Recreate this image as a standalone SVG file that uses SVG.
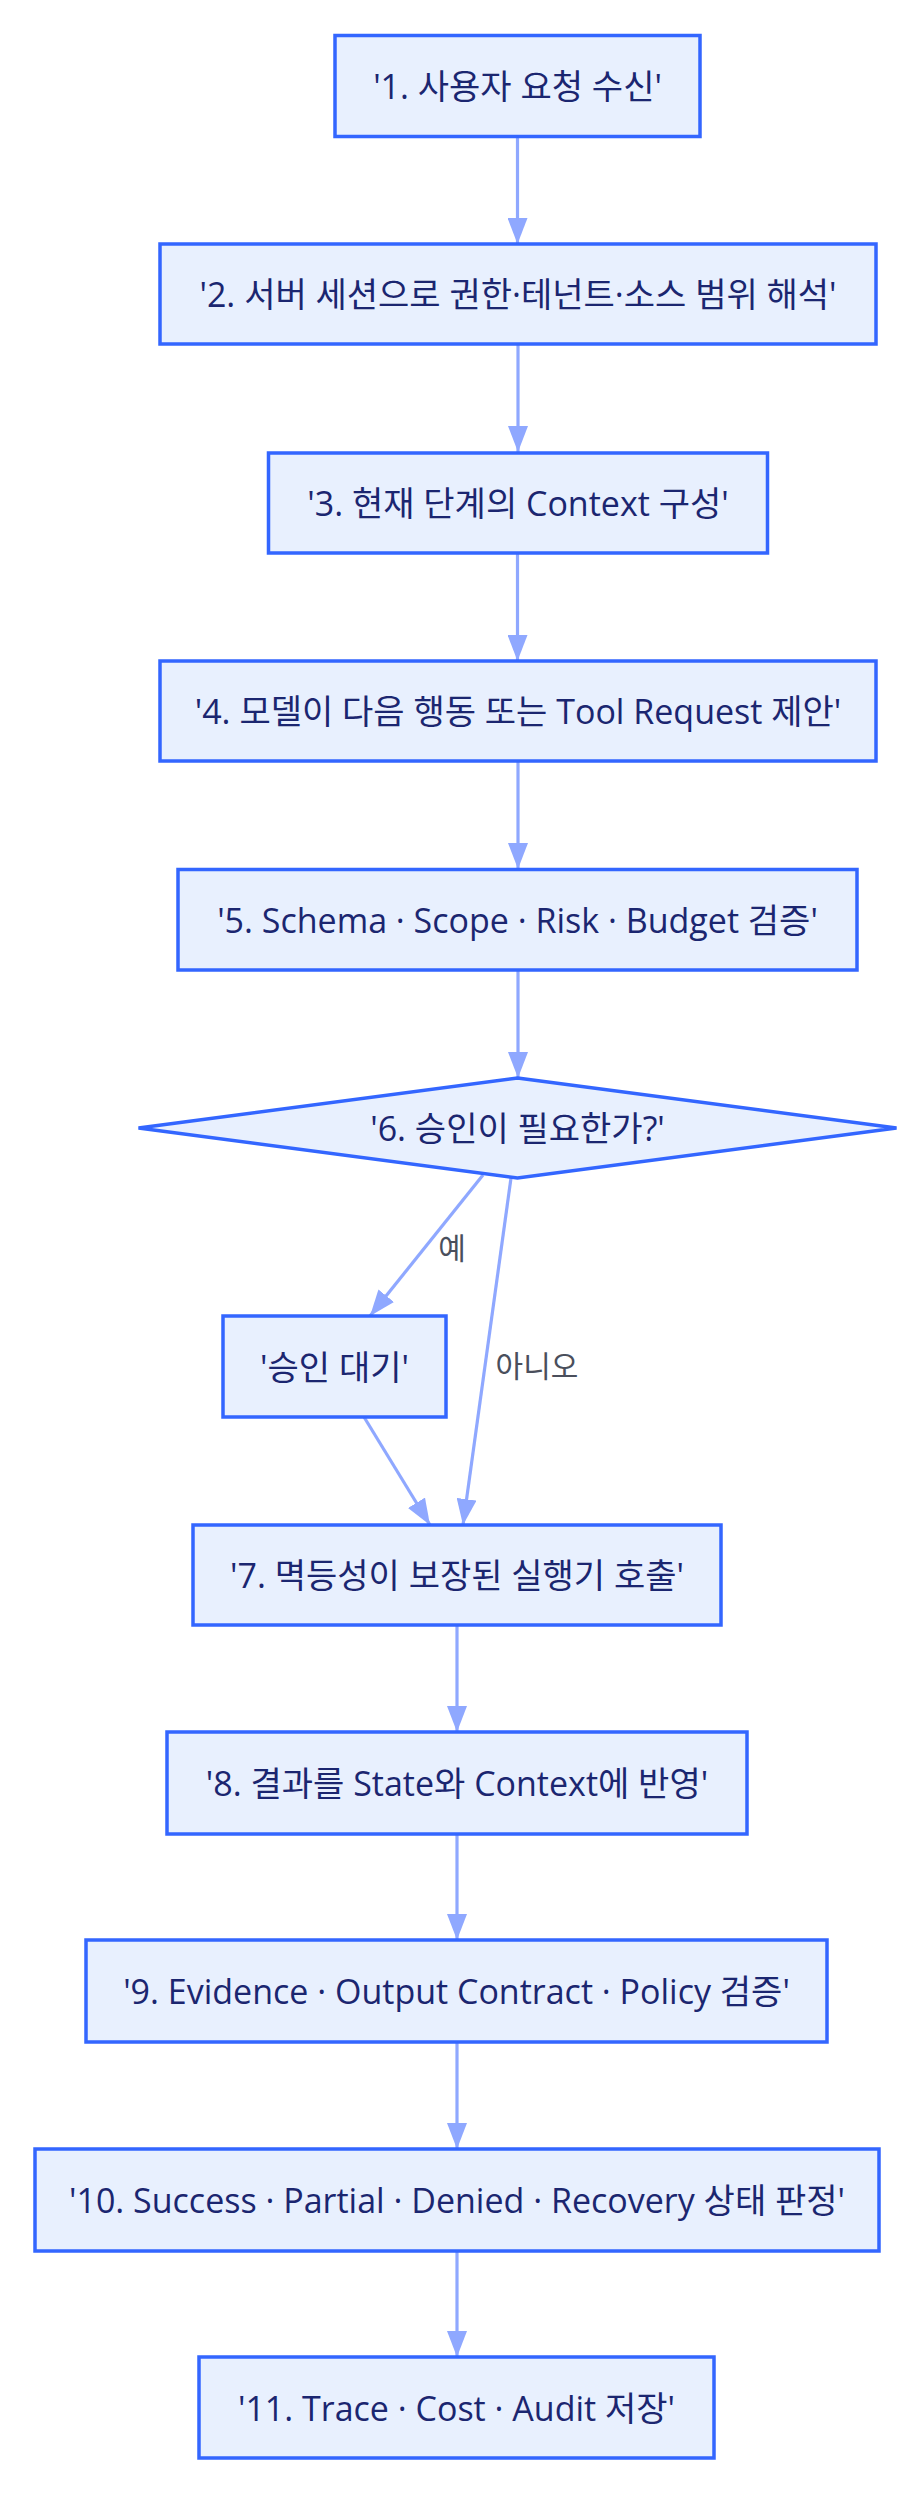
<svg xmlns="http://www.w3.org/2000/svg" width="922" height="2494" viewBox="0 0 922 2494">
<style>
.node rect, .node polygon { fill: #E8F0FE; stroke: #3366FF; stroke-width: 3.5; }
.node text { font-family: "Open Sans", "Noto Sans CJK KR", sans-serif; font-size: 34px; fill: #1B2670; text-anchor: middle; dominant-baseline: central; }
.edges line { stroke: #8FA8FF; stroke-width: 3.2; fill: none; marker-end: url(#arrow); }
.elabel { font-family: "Noto Sans CJK KR", sans-serif; font-size: 30px; fill: #4A4F5C; text-anchor: middle; dominant-baseline: central; }
</style>
<defs>
<marker id="arrow" viewBox="0 0 26 20" refX="26" refY="10" markerWidth="26" markerHeight="20" markerUnits="userSpaceOnUse" orient="auto">
<path d="M0,0 L26,10 L0,20 z" fill="#8FA8FF"/>
</marker>
</defs>
<rect width="922" height="2494" fill="#FFFFFF"/>
<g class="edges" id="connectors">
<line x1="517.5" y1="137" x2="517.5" y2="244"/>
<line x1="518" y1="344" x2="518" y2="452"/>
<line x1="517.5" y1="553" x2="517.5" y2="661"/>
<line x1="518" y1="761" x2="518" y2="869"/>
<line x1="518" y1="970" x2="518" y2="1078"/>
<line x1="483" y1="1175" x2="370" y2="1316"/>
<line x1="511" y1="1178" x2="463" y2="1525"/>
<line x1="364" y1="1417" x2="430" y2="1525"/>
<line x1="457" y1="1625" x2="457" y2="1732"/>
<line x1="457" y1="1834" x2="457" y2="1940"/>
<line x1="457" y1="2042" x2="457" y2="2149"/>
<line x1="457" y1="2251" x2="457" y2="2357"/>
<text class="elabel" x="452" y="1246">예</text>
<text class="elabel" x="537" y="1364">아니오</text>
</g>
<g class="node" id="n1"><rect x="335" y="35.5" width="365" height="101"/><text x="517.5" y="86">'1. 사용자 요청 수신'</text></g>
<g class="node" id="n2"><rect x="160" y="244" width="716" height="100"/><text x="518" y="294">'2. 서버 세션으로 권한·테넌트·소스 범위 해석'</text></g>
<g class="node" id="n3"><rect x="268.5" y="453" width="499" height="100"/><text x="518" y="503">'3. 현재 단계의 Context 구성'</text></g>
<g class="node" id="n4"><rect x="160" y="661" width="716" height="100"/><text x="518" y="711">'4. 모델이 다음 행동 또는 Tool Request 제안'</text></g>
<g class="node" id="n5"><rect x="178" y="869.5" width="679" height="100.5"/><text x="517.5" y="920">'5. Schema · Scope · Risk · Budget 검증'</text></g>
<g class="node" id="n6"><polygon points="517.5,1078 896.5,1128 517.5,1178 138.5,1128"/><text x="517.5" y="1128">'6. 승인이 필요한가?'</text></g>
<g class="node" id="approval"><rect x="223" y="1316" width="223" height="101"/><text x="334.5" y="1366.5">'승인 대기'</text></g>
<g class="node" id="n7"><rect x="193" y="1525" width="528" height="100"/><text x="457" y="1575">'7. 멱등성이 보장된 실행기 호출'</text></g>
<g class="node" id="n8"><rect x="167" y="1732" width="580" height="102"/><text x="457" y="1783">'8. 결과를 State와 Context에 반영'</text></g>
<g class="node" id="n9"><rect x="86" y="1940" width="741" height="102"/><text x="456.5" y="1991">'9. Evidence · Output Contract · Policy 검증'</text></g>
<g class="node" id="n10"><rect x="35" y="2149" width="844" height="102"/><text x="457" y="2200">'10. Success · Partial · Denied · Recovery 상태 판정'</text></g>
<g class="node" id="n11"><rect x="199" y="2357" width="515" height="101"/><text x="456.5" y="2407.5">'11. Trace · Cost · Audit 저장'</text></g>
</svg>
